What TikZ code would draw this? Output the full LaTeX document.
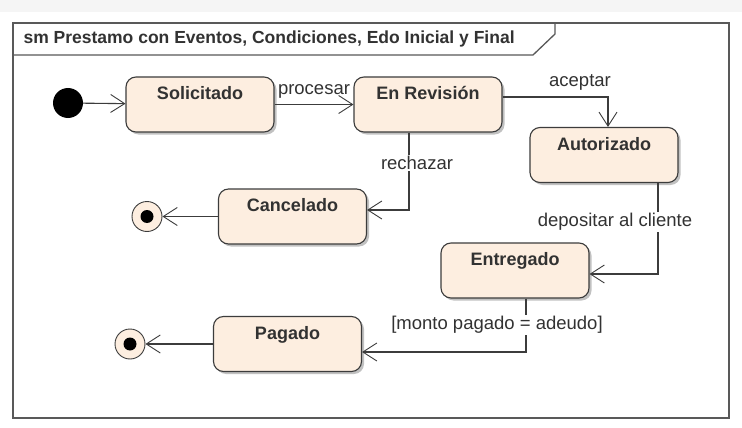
\documentclass[tikz,border=0pt]{standalone}
\usepackage{fontspec}
\setmainfont{Liberation Sans}
\usepackage{xcolor}
\usetikzlibrary{arrows.meta,shadows,positioning}

\definecolor{durazno}{RGB}{253,238,224}
\definecolor{linea}{RGB}{60,60,60}
\definecolor{texto}{RGB}{50,50,50}

\tikzset{
  estado/.style={draw=linea, line width=1.1pt, fill=durazno, rounded corners=10pt,
    minimum width=148pt, minimum height=55pt,
    drop shadow={shadow xshift=2.5pt, shadow yshift=-2.5pt, fill=black!40, opacity=0.6}},
  nombre/.style={anchor=north, yshift=-10pt, inner sep=0pt, text=texto,
    font=\bfseries\fontsize{18}{21}\selectfont},
  trans/.style={draw=linea, line width=1.1pt,
    -{Straight Barb[length=14pt,width=18pt,line width=0.9pt]}},
  evento/.style={fill=white, inner sep=1pt, text=texto, font=\fontsize{18.5}{21}\selectfont},
  fin/.style={circle, draw=linea, fill=durazno, line width=0.9pt, minimum size=30pt, inner sep=0pt},
  punto/.style={circle, fill=black, minimum size=13pt, inner sep=0pt}
}

\begin{document}
\begin{tikzpicture}[x=1pt,y=-1pt]
\useasboundingbox (0,0) rectangle (742,428);
\fill[white] (0,0) rectangle (742,428);
\fill[black!4] (0,0) rectangle (742,12);

% marco
\draw[black!65, line width=1.6pt] (13,23) rectangle (729,418);
\draw[black!65, line width=1.3pt] (13,55) -- (533,55) -- (555,34) -- (555,23);
\node[anchor=west, text=texto, font=\bfseries\fontsize{17.5}{20}\selectfont] (titulo) at (20,39)
  {sm Prestamo con Eventos, Condiciones, Edo Inicial y Final};

% estados
\node[circle, fill=black, minimum size=30pt, inner sep=0pt] (ini) at (68,103) {};
\node[estado, label={[nombre]north:Solicitado}] (sol) at (200,104.5) {};
\node[estado, label={[nombre]north:En Revisión}] (rev) at (428,104.5) {};
\node[estado, label={[nombre]north:Autorizado}] (aut) at (604,155) {};
\node[estado, label={[nombre]north:Cancelado}] (can) at (292.5,216.5) {};
\node[estado, label={[nombre]north:Entregado}] (ent) at (515,270.5) {};
\node[estado, label={[nombre]north:Pagado}] (pag) at (287.5,344) {};
\node[fin] (fin1) at (147,216.5) {};
\node[punto] (fin1p) at (fin1) {};
\node[fin] (fin2) at (130,344) {};
\node[punto] (fin2p) at (fin2) {};

% transiciones
\draw[trans] (ini) -- (sol);
\draw[trans] (sol) -- (rev);
\node[evento, fill=none] (procesar) at (314,91) {procesar};
\draw[trans] ([yshift=7.5pt]rev.east) -| ([xshift=4pt]aut.north);
\node[evento] (aceptar) at (580,82) {aceptar};
\draw[trans] ([xshift=-19pt]rev.south) |- ([yshift=6.5pt]can.east);
\node[evento] (rechazar) at (417,163) {rechazar};
\draw[trans] ([xshift=54pt]aut.south) |- ([yshift=-3.5pt]ent.east);
\node[evento] (depositar) at (615,222) {depositar al cliente};
\draw[trans] ([xshift=11pt]ent.south) |- ([yshift=-8pt]pag.east);
\node[evento] (monto) at (497,325) {[monto pagado = adeudo]};
\draw[trans] (can) -- (fin1);
\draw[trans] (pag) -- (fin2);
\end{tikzpicture}
\end{document}
